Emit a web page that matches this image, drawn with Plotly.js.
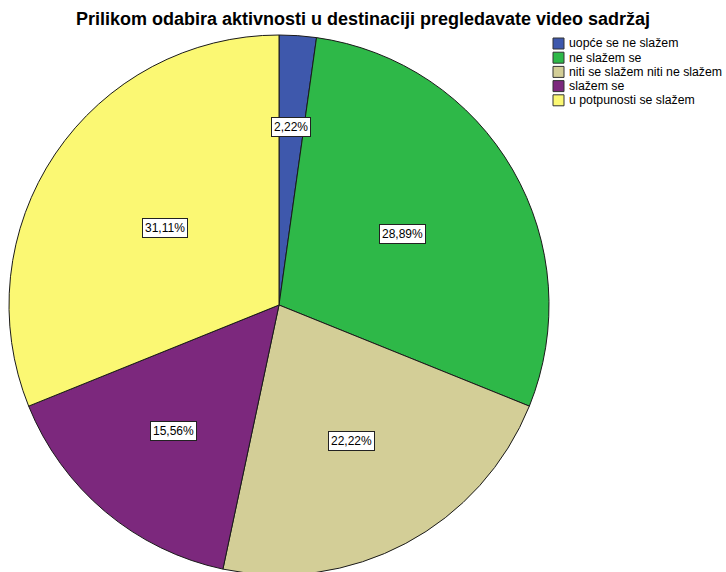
<!DOCTYPE html>
<html>
<head>
<meta charset="utf-8">
<script src="https://cdn.plot.ly/plotly-3.0.1.min.js"></script>
<style>
html,body{margin:0;padding:0;overflow:hidden;background:#fff;}
#chart{width:726px;height:575px;}
</style>
</head>
<body>
<div id="chart"></div>
<script>
const titleText = 'Prilikom odabira aktivnosti u destinaciji pregledavate video sadržaj';
const categories = ['uopće se ne slažem', 'ne slažem se', 'niti se slažem niti ne slažem', 'slažem se', 'u potpunosti se slažem'];
const percents = [2.22, 28.89, 22.22, 15.56, 31.11];
const colors = ['#3E58AC', '#2EB848', '#D3CE97', '#7C287D', '#FBF873'];

const W = 726, H = 575;
const cx = 279, cy = 305, R = 270;
const domX = [(cx - R) / W, (cx + R) / W];
const domY = [1 - (cy + R) / H, 1 - (cy - R) / H];
const FONT = 'Liberation Sans, Arial, sans-serif';

const fmt = v => v.toFixed(2).replace('.', ',') + '%';

// value labels: near each slice's centroid, along its mid-angle (clockwise from top)
const total = percents.reduce((a, b) => a + b, 0);
let cum = 0;
const annotations = percents.map(v => {
  const alpha = v / total * 2 * Math.PI;
  const mid = (cum + v / 2) / total * 2 * Math.PI;
  cum += v;
  const centroid = 4 * R * Math.sin(alpha / 2) / (3 * alpha);
  const d = centroid * (1 - 0.05 * alpha);
  const px = cx + Math.sin(mid) * d;
  const py = cy - Math.cos(mid) * d;
  return {
    x: px / W, y: 1 - py / H, xref: 'paper', yref: 'paper',
    xanchor: 'center', yanchor: 'middle',
    text: fmt(v), showarrow: false,
    font: {family: FONT, size: 12, color: '#000'},
    bgcolor: '#fff', bordercolor: '#222', borderwidth: 1, borderpad: 2
  };
});

// legend (compact, like the original)
const legX = 553, legY = 38, legStep = 14.2, sw = 11;
const shapes = [];
categories.forEach((c, i) => {
  const top = legY + i * legStep;
  shapes.push({
    type: 'rect', xref: 'paper', yref: 'paper',
    x0: legX / W, x1: (legX + sw) / W,
    y0: 1 - (top + sw) / H, y1: 1 - top / H,
    fillcolor: colors[i], line: {color: '#333', width: 1}
  });
  annotations.push({
    x: (legX + sw + 3) / W, y: 1 - (top + sw / 2) / H, xref: 'paper', yref: 'paper',
    xanchor: 'left', yanchor: 'middle', text: c, showarrow: false,
    font: {family: FONT, size: 12.3, color: '#000'}
  });
});

const data = [{
  type: 'pie',
  labels: categories,
  values: percents,
  sort: false,
  direction: 'clockwise',
  rotation: 0,
  marker: {colors: colors, line: {color: '#1a1a1a', width: 1}},
  textinfo: 'none',
  hoverinfo: 'label+percent',
  showlegend: false,
  domain: {x: domX, y: domY}
}];

const layout = {
  width: W, height: H,
  margin: {l: 0, r: 0, t: 0, b: 0},
  paper_bgcolor: '#fff',
  title: {
    text: '<b>' + titleText + '</b>',
    x: 0.5, xanchor: 'center', y: 1 - 19 / H, yanchor: 'middle',
    font: {family: FONT, size: 18, color: '#000'}
  },
  showlegend: false,
  shapes: shapes,
  annotations: annotations
};

Plotly.newPlot('chart', data, layout, {displayModeBar: false, staticPlot: true});
</script>
</body>
</html>
